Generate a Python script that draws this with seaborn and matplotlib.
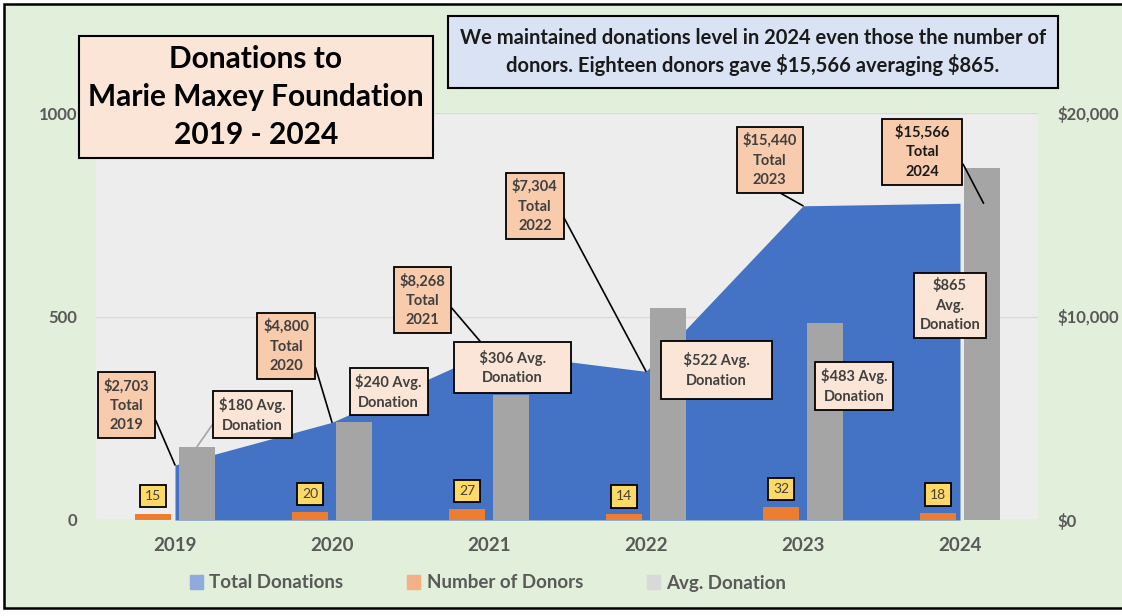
import matplotlib
matplotlib.use("Agg")
import matplotlib.pyplot as plt
from matplotlib.patches import Patch, Rectangle
import numpy as np
import pandas as pd
import seaborn as sns

# ---- data ----
YEARS = ["2019", "2020", "2021", "2022", "2023", "2024"]
TOTAL_DONATIONS = [2703, 4800, 8268, 7304, 15440, 15566]
NUM_DONORS = [15, 20, 27, 14, 32, 18]
AVG_DONATION = [180, 240, 306, 522, 483, 865]

LEFT_TICKS = [0, 500, 1000]
RIGHT_TICKS = [0, 10000, 20000]

TITLE = "Donations to\nMarie Maxey Foundation\n2019 - 2024"
NOTE = ("We maintained donations level in 2024 even those the number of\n"
        "donors. Eighteen donors gave $15,566 averaging $865.")
SERIES = ["Total Donations", "Number of Donors", "Avg. Donation"]

# ---- styling ----
BLUE, ORANGE, GRAY = "#4472C4", "#ED7D31", "#A5A5A5"
GREEN_BG, PLOT_BG = "#E2EFDA", "#EDEDED"
PEACH, LIGHT_PEACH, LIGHT_BLUE, YELLOW = "#F8CBAD", "#FBE5D6", "#DAE3F3", "#FFD966"
TXT, AXTXT = "#404040", "#595959"

sns.set_style("white")
plt.rcParams["font.family"] = ["Lato", "DejaVu Sans"]
plt.rcParams["text.parse_math"] = False  # "$" is money here, not mathtext

fig = plt.figure(figsize=(11.22, 6.16), dpi=100, facecolor="white")
fig.add_artist(Rectangle((4 / 1122, 8 / 616), 1.2, 604 / 616, transform=fig.transFigure,
                         facecolor=GREEN_BG, edgecolor="black", lw=1.8, zorder=-10))

ax = fig.add_axes([96.5 / 1122, 96 / 616, 942 / 1122, 407 / 616])
ax2 = ax.twinx()
ax2.set_zorder(0)
ax.set_zorder(1)
ax.patch.set_visible(False)
ax2.patch.set_visible(True)
ax2.patch.set_facecolor(PLOT_BG)

# area (right axis)
x = np.arange(len(YEARS))
ax2.fill_between(x, TOTAL_DONATIONS, color=BLUE, lw=0, zorder=2)
ax2.set_ylim(0, 20000)
ax2.set_yticks(RIGHT_TICKS)
ax2.set_yticklabels([f"${v:,}" for v in RIGHT_TICKS])
ax2.yaxis.grid(True, color="#D9D9D9", lw=1)
ax2.set_axisbelow(True)

# bars (left axis)
bars = pd.DataFrame({
    "year": YEARS * 2,
    "series": [SERIES[1]] * len(YEARS) + [SERIES[2]] * len(YEARS),
    "value": NUM_DONORS + AVG_DONATION,
})
BAR_W = 0.56
sns.barplot(data=bars, x="year", y="value", hue="series",
            palette={SERIES[1]: ORANGE, SERIES[2]: GRAY}, width=BAR_W, gap=0.2,
            saturation=1, linewidth=0, errorbar=None, legend=False, ax=ax)
ax.set_xlim(-0.5, len(YEARS) - 0.5)
ax.set_ylim(0, 1000)
ax.set_yticks(LEFT_TICKS)
ax.set_xlabel("")
ax.set_ylabel("")
ax.grid(False)

for a in (ax, ax2):
    for s in a.spines.values():
        s.set_visible(False)
ax.tick_params(axis="x", length=0, pad=12, labelsize=13.5, labelcolor=AXTXT)
ax.tick_params(axis="y", length=0, pad=14, labelsize=12, labelcolor=AXTXT)
ax2.tick_params(axis="y", length=0, pad=14, labelsize=12, labelcolor=AXTXT)
for lab in ax.get_xticklabels() + ax.get_yticklabels() + ax2.get_yticklabels():
    lab.set_fontweight("bold")

off = BAR_W / 4

# donor count labels
for i, v in enumerate(NUM_DONORS):
    ax.annotate(str(v), xy=(i - off, v), xytext=(0, 13), textcoords="offset points",
                ha="center", va="center", fontsize=10, color=TXT, zorder=7,
                bbox=dict(boxstyle="square,pad=0.38", fc=YELLOW, ec="black", lw=1.3))

# total donation labels (offsets in points, leader start on box)
total_pos = [(-35, 43), (-33, 55), (-48, 37), (-80, 119), (-24, 33), (-44, 37)]
total_rel = [(1, 0.5), (1, 0.5), (1, 0.5), (1, 0.5), (0.5, 0), (1, 0.5)]
total_dx = [0, 0, 0, 0, 0, 0.15]
for i, v in enumerate(TOTAL_DONATIONS):
    col = "#1a1a1a" if i == len(YEARS) - 1 else TXT
    txt = f"${v:,}\nTotal\n{YEARS[i]}"
    if i == len(YEARS) - 1:
        txt = f"  ${v:,}  \nTotal\n{YEARS[i]}"
    ax.annotate(txt, xy=(i + total_dx[i], v), xycoords=ax2.transData,
                xytext=total_pos[i], textcoords="offset points", ha="center", va="center",
                fontsize=10.5, fontweight="bold", color=col, linespacing=1.5, zorder=5,
                bbox=dict(boxstyle="square,pad=0.4", fc=PEACH, ec="black", lw=1.3),
                arrowprops=dict(arrowstyle="-", color="black", lw=1.2, shrinkA=0, shrinkB=0,
                                relpos=total_rel[i]))

# average donation labels
avg_text = [f"${v} Avg.\nDonation" for v in AVG_DONATION]
avg_text[2] = "     $306 Avg.     \nDonation"
avg_text[3] = "   $522 Avg.   \nDonation"
avg_text[5] = f"${AVG_DONATION[5]}\nAvg.\nDonation"
avg_pos = [(40, 23), (25, 22), (1, 20), (35, -45), (21, -45), (-23, -99)]
avg_pad = [0.4, 0.4, 0.55, 0.8, 0.4, 0.4]
for i, v in enumerate(AVG_DONATION):
    kw = {}
    if i == 0:
        kw["arrowprops"] = dict(arrowstyle="-", color=GRAY, lw=1.2, shrinkA=0, shrinkB=0,
                                relpos=(0, 0.5))
    ax.annotate(avg_text[i], xy=(i + off, v), xytext=avg_pos[i], textcoords="offset points",
                ha="center", va="center", fontsize=10.5, fontweight="bold", color=TXT,
                linespacing=1.5, zorder=6,
                bbox=dict(boxstyle=f"square,pad={avg_pad[i]}", fc=LIGHT_PEACH, ec="black", lw=1.3),
                **kw)

# title and note boxes
fig.text(256 / 1122, 1 - 97 / 616, TITLE, ha="center", va="center", fontsize=21.5,
         fontweight="bold", color="black", linespacing=1.42, zorder=10,
         bbox=dict(boxstyle="square,pad=0.3", fc=LIGHT_PEACH, ec="black", lw=1.5))
fig.text(753 / 1122, 1 - 52 / 616, NOTE, ha="center", va="center", fontsize=14.5,
         fontweight="bold", color="#1a1a1a", linespacing=1.35, zorder=10,
         bbox=dict(boxstyle="square,pad=0.6", fc=LIGHT_BLUE, ec="black", lw=1.5))

# legend
handles = [Patch(color="#8FAADC"), Patch(color="#F4B183"), Patch(color="#D9D9D9")]
leg = fig.legend(handles, SERIES, loc="center", bbox_to_anchor=(488 / 1122, 1 - 583 / 616),
                 ncol=3, frameon=False, handlelength=0.7, handleheight=0.7,
                 handletextpad=0.35, columnspacing=3.4,
                 prop={"size": 13.5, "weight": "bold"}, labelcolor=AXTXT)

fig.savefig("out.png", dpi=100)
